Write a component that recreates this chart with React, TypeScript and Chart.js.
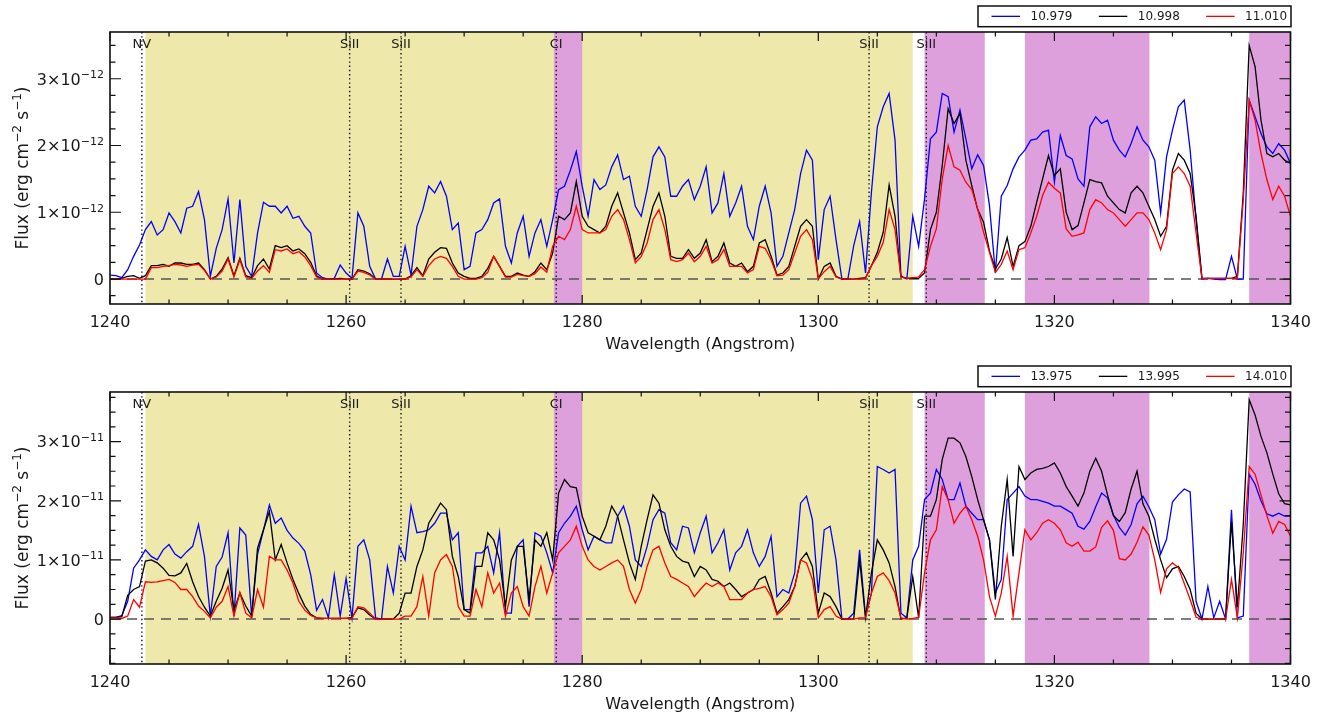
import React, { useEffect, useRef } from "react";
import { Chart, registerables } from "chart.js";

Chart.register(...registerables);

// ---- sampling grid (Angstrom) ----
const waveStart = 1240;
const waveStep = 0.5;
const waveCount = 201;
const wavelengths: number[] = Array.from({ length: waveCount }, (_, i) => waveStart + i * waveStep);

// ---- upper panel (flux in units of 1e-12 erg cm^-2 s^-1) ----
const topLabels = ["10.979", "10.998", "11.010"];
const topBlue = [
  0.06, 0.05, 0.02, 0.14, 0.34, 0.51, 0.74, 0.86, 0.66, 0.74, 0.99, 0.86, 0.69, 1.06, 1.09, 1.31, 0.89, 0.04, 0.46, 0.74,
  1.2, 0.24, 1.19, 0.19, 0.04, 0.69, 1.15, 1.09, 1.09, 0.99, 1.09, 0.91, 0.94, 0.79, 0.69, 0.09, 0.02, 0.0, 0.01, 0.21,
  0.09, 0.01, 0.99, 0.79, 0.19, 0.0, 0.0, 0.3, 0.04, 0.04, 0.49, 0.06, 0.79, 1.04, 1.39, 1.29, 1.46, 1.24, 0.74, 0.84,
  0.14, 0.19, 0.69, 0.74, 0.89, 1.14, 1.2, 0.49, 0.24, 0.69, 0.94, 0.34, 0.69, 0.89, 0.49, 0.89, 1.34, 1.39, 1.63, 1.91,
  1.39, 0.94, 1.49, 1.34, 1.41, 1.68, 1.86, 1.49, 1.54, 1.09, 0.94, 1.34, 1.83, 1.98, 1.83, 1.24, 1.24, 1.39, 1.49, 1.19,
  1.39, 1.68, 0.99, 1.14, 1.58, 0.94, 1.14, 1.39, 0.79, 0.59, 1.09, 1.39, 0.99, 0.19, 0.34, 0.69, 1.04, 1.58, 1.93, 1.78,
  0.29, 1.04, 1.24, 0.59, 0.0, 0.0, 0.5, 0.86, 0.09, 1.3, 2.28, 2.58, 2.78, 2.08, 0.05, 0.0, 0.94, 0.49, 1.2, 2.1,
  2.2, 2.78, 2.73, 2.2, 2.53, 2.1, 1.65, 1.86, 1.7, 1.1, 0.09, 1.24, 1.4, 1.65, 1.83, 1.93, 2.08, 2.1, 2.2, 2.23,
  1.45, 2.15, 1.85, 1.8, 1.5, 1.39, 2.28, 2.43, 2.33, 2.38, 2.08, 1.93, 1.83, 2.03, 2.28, 2.08, 1.98, 1.78, 0.99, 1.83,
  2.23, 2.58, 2.68, 1.93, 0.89, 0.0, 0.01, 0.0, -0.01, -0.01, 0.34, 0.0, 0.0, 2.68, 2.43, 2.18, 1.98, 1.88, 2.03, 1.93,
  1.73,
];
const topBlack = [
  0.0, 0.0, 0.01, 0.04, 0.05, 0.01, 0.05, 0.2, 0.2, 0.22, 0.19, 0.24, 0.24, 0.22, 0.22, 0.24, 0.14, 0.0, 0.04, 0.15,
  0.32, 0.05, 0.31, 0.05, 0.02, 0.2, 0.3, 0.15, 0.5, 0.47, 0.5, 0.42, 0.45, 0.38, 0.25, 0.05, 0.0, 0.0, 0.0, 0.01,
  0.0, 0.0, 0.14, 0.12, 0.08, 0.0, 0.0, 0.0, 0.0, 0.0, 0.0, 0.05, 0.17, 0.05, 0.3, 0.4, 0.47, 0.46, 0.24, 0.09,
  0.04, 0.01, 0.01, 0.04, 0.16, 0.34, 0.19, 0.04, 0.04, 0.09, 0.06, 0.04, 0.11, 0.24, 0.14, 0.39, 0.94, 0.89, 0.99, 1.46,
  0.94, 0.79, 0.74, 0.69, 0.79, 1.09, 1.29, 0.99, 0.69, 0.29, 0.39, 0.74, 1.09, 1.29, 0.94, 0.34, 0.31, 0.31, 0.44, 0.31,
  0.39, 0.59, 0.26, 0.34, 0.54, 0.24, 0.19, 0.24, 0.11, 0.19, 0.54, 0.59, 0.34, 0.06, 0.09, 0.19, 0.49, 0.79, 0.89, 0.79,
  0.0, 0.19, 0.24, 0.04, 0.0, 0.0, 0.0, 0.01, 0.02, 0.2, 0.4, 0.7, 1.41, 0.94, 0.03, 0.01, 0.01, 0.01, 0.09, 0.74,
  1.0, 1.7, 2.55, 2.33, 2.48, 1.78, 1.4, 1.04, 0.85, 0.42, 0.15, 0.3, 0.62, 0.19, 0.5, 0.56, 0.79, 1.15, 1.5, 1.85,
  1.55, 1.65, 1.0, 0.74, 0.8, 1.14, 1.49, 1.46, 1.44, 1.24, 1.14, 1.04, 0.99, 1.29, 1.39, 1.29, 1.09, 0.89, 0.64, 0.79,
  1.63, 1.88, 1.78, 1.58, 0.94, 0.01, 0.01, 0.01, 0.01, 0.01, 0.01, 0.04, 1.29, 3.5, 3.18, 2.38, 1.88, 1.83, 1.88, 1.78,
  1.73,
];
const topRed = [
  0.0, 0.0, 0.0, 0.0, 0.0, 0.0, 0.0, 0.17, 0.17, 0.19, 0.2, 0.22, 0.21, 0.19, 0.21, 0.22, 0.13, 0.0, 0.03, 0.12,
  0.3, 0.03, 0.29, 0.03, 0.01, 0.12, 0.2, 0.1, 0.44, 0.42, 0.45, 0.38, 0.41, 0.33, 0.2, 0.03, 0.0, 0.0, 0.0, 0.0,
  0.0, 0.0, 0.12, 0.1, 0.06, 0.0, 0.0, 0.0, 0.0, 0.0, 0.0, 0.03, 0.14, 0.04, 0.2, 0.3, 0.34, 0.31, 0.19, 0.04,
  0.0, 0.0, 0.0, 0.02, 0.1, 0.34, 0.19, 0.03, 0.03, 0.07, 0.05, 0.04, 0.08, 0.18, 0.1, 0.49, 0.64, 0.59, 0.74, 1.09,
  0.74, 0.69, 0.69, 0.69, 0.74, 0.94, 1.04, 0.89, 0.59, 0.24, 0.34, 0.54, 0.89, 1.04, 0.74, 0.29, 0.26, 0.29, 0.39, 0.26,
  0.34, 0.49, 0.24, 0.29, 0.44, 0.19, 0.19, 0.19, 0.09, 0.14, 0.49, 0.46, 0.29, 0.05, 0.06, 0.14, 0.39, 0.64, 0.74, 0.59,
  0.0, 0.11, 0.19, 0.03, 0.0, 0.0, 0.0, 0.0, 0.01, 0.2, 0.34, 0.55, 1.04, 0.74, 0.03, 0.01, 0.02, 0.03, 0.14, 0.49,
  0.75, 1.5, 2.0, 1.68, 1.63, 1.45, 1.34, 1.05, 0.7, 0.4, 0.1, 0.22, 0.42, 0.14, 0.44, 0.47, 0.69, 0.94, 1.25, 1.45,
  1.36, 1.29, 0.75, 0.64, 0.66, 0.69, 1.04, 1.19, 1.14, 1.04, 0.99, 0.89, 0.79, 0.89, 0.99, 0.99, 0.89, 0.69, 0.44, 0.74,
  1.58, 1.68, 1.58, 1.39, 0.69, 0.01, 0.01, 0.01, 0.01, 0.01, 0.01, 0.01, 1.19, 2.68, 2.38, 1.88, 1.49, 1.19, 1.39, 1.24,
  0.94,
];

// ---- lower panel (flux in units of 1e-11 erg cm^-2 s^-1) ----
const bottomLabels = ["13.975", "13.995", "14.010"];
const bottomBlue = [
  0.03, 0.03, 0.06, 0.3, 0.86, 1.0, 1.17, 1.06, 1.0, 1.17, 1.26, 1.1, 1.03, 1.14, 1.23, 1.6, 1.06, 0.05, 0.89, 1.05,
  1.46, 0.05, 1.54, 1.42, 0.05, 1.1, 1.5, 1.93, 1.62, 1.71, 1.5, 1.37, 1.28, 1.15, 0.75, 0.15, 0.33, 0.02, 0.75, 0.05,
  0.69, 0.02, 1.23, 1.34, 1.0, 0.02, 0.0, 0.89, 0.44, 1.23, 1.0, 1.91, 1.46, 1.48, 1.51, 1.62, 1.79, 1.79, 1.34, 1.46,
  0.16, 0.16, 1.12, 1.12, 1.23, 0.78, 1.46, 0.1, 0.1, 1.23, 1.34, 0.21, 1.46, 1.4, 1.12, 0.78, 1.46, 1.62, 1.74, 1.91,
  1.51, 1.17, 1.4, 1.34, 1.29, 1.29, 1.74, 1.91, 1.57, 1.0, 0.89, 1.23, 1.68, 1.85, 1.79, 1.29, 1.17, 1.57, 1.54, 1.12,
  1.46, 1.74, 1.12, 1.29, 1.51, 0.83, 1.12, 1.23, 1.51, 1.12, 0.89, 1.06, 1.4, 0.38, 0.5, 0.44, 0.78, 1.96, 2.08, 1.68,
  0.44, 1.51, 1.57, 1.0, 0.0, 0.0, 0.1, 1.17, 0.05, 0.44, 2.58, 2.53, 2.47, 2.53, 0.1, 0.02, 1.0, 1.23, 2.02, 2.13,
  2.53, 2.36, 2.02, 2.02, 2.3, 1.91, 1.79, 1.68, 1.68, 1.34, 0.44, 0.67, 2.02, 2.13, 2.24, 2.08, 2.02, 2.02, 1.99, 1.96,
  1.91, 1.91, 1.85, 1.79, 1.57, 1.52, 1.65, 1.9, 2.13, 2.05, 1.76, 1.55, 1.42, 1.6, 1.95, 2.08, 1.9, 1.68, 1.1, 1.35,
  1.98, 2.1, 2.2, 2.15, 0.3, 0.0, 0.55, 0.02, 0.3, 0.0, 1.85, 0.02, 0.05, 2.45, 2.28, 2.0, 1.78, 1.74, 1.79, 1.74,
  1.74,
];
const bottomBlack = [
  0.03, 0.03, 0.04, 0.4, 0.5, 0.55, 0.98, 1.0, 0.95, 0.86, 0.74, 0.73, 0.78, 0.94, 0.63, 0.38, 0.2, 0.05, 0.3, 0.52,
  0.83, 0.15, 0.44, 0.22, 0.05, 1.2, 1.51, 1.82, 1.0, 1.26, 0.95, 0.67, 0.43, 0.22, 0.08, 0.02, 0.01, 0.01, 0.01, 0.01,
  0.01, 0.03, 0.19, 0.16, 0.07, 0.0, 0.0, 0.0, 0.0, 0.1, 0.44, 0.44, 0.89, 1.17, 1.62, 1.79, 1.96, 1.85, 1.06, 0.72,
  0.16, 0.1, 0.89, 0.89, 1.46, 1.34, 1.0, 0.21, 1.0, 1.23, 1.23, 0.33, 1.34, 1.23, 1.46, 1.0, 2.13, 2.36, 2.24, 2.22,
  1.74, 1.46, 1.4, 1.34, 1.57, 1.91, 1.74, 1.34, 0.95, 0.67, 1.23, 1.68, 2.1, 1.96, 1.51, 1.23, 1.06, 0.98, 0.95, 0.72,
  0.89, 0.83, 0.67, 0.64, 0.55, 0.61, 0.5, 0.38, 0.44, 0.5, 0.67, 0.72, 0.44, 0.1, 0.21, 0.33, 0.55, 1.0, 1.12, 0.89,
  0.1, 0.44, 0.38, 0.21, 0.0, 0.0, 0.0, 1.0, 0.02, 0.78, 1.34, 1.17, 0.95, 0.55, 0.0, 0.02, 0.72, 0.02, 1.74, 1.74,
  2.02, 2.7, 3.06, 3.06, 2.98, 2.75, 2.41, 2.02, 1.68, 1.34, 0.33, 1.57, 2.36, 1.06, 2.58, 2.36, 2.47, 2.53, 2.55, 2.58,
  2.64, 2.47, 2.24, 2.08, 1.91, 2.13, 2.5, 2.72, 2.5, 2.1, 1.75, 1.65, 1.8, 2.2, 2.5, 1.95, 1.74, 1.35, 1.0, 0.7,
  0.85, 0.89, 0.72, 0.5, 0.1, 0.0, 0.0, 0.0, 0.0, 0.0, 1.65, 0.2, 1.6, 3.71, 3.45, 3.09, 2.81, 2.45, 2.12, 1.95,
  1.93,
];
const bottomRed = [
  0.02, 0.02, 0.01, 0.05, 0.33, 0.2, 0.63, 0.62, 0.63, 0.65, 0.67, 0.62, 0.5, 0.5, 0.38, 0.22, 0.13, 0.02, 0.2, 0.3,
  0.55, 0.05, 0.45, 0.1, 0.02, 0.5, 0.2, 1.06, 1.0, 1.0, 0.83, 0.61, 0.3, 0.15, 0.06, 0.02, 0.01, 0.01, 0.01, 0.01,
  0.01, 0.01, 0.21, 0.19, 0.1, 0.0, 0.0, 0.0, 0.0, 0.0, 0.05, 0.05, 0.21, 0.72, 0.05, 0.78, 1.0, 1.09, 0.89, 0.21,
  0.05, 0.05, 0.5, 0.21, 0.78, 0.44, 0.61, 0.05, 0.44, 0.55, 0.21, 0.05, 0.55, 0.89, 0.44, 0.78, 1.12, 1.23, 1.34, 1.57,
  1.23, 1.0, 0.89, 0.83, 0.89, 0.95, 1.0, 0.89, 0.5, 0.27, 0.5, 0.89, 1.17, 1.23, 0.95, 0.72, 0.67, 0.61, 0.55, 0.38,
  0.5, 0.61, 0.55, 0.61, 0.55, 0.33, 0.33, 0.33, 0.44, 0.5, 0.52, 0.55, 0.38, 0.07, 0.16, 0.27, 0.55, 1.0, 0.95, 0.67,
  0.02, 0.16, 0.21, 0.05, 0.0, 0.0, 0.0, 0.02, 0.02, 0.44, 0.72, 0.78, 0.65, 0.44, 0.02, 0.0, 0.01, 0.03, 0.78, 1.34,
  1.51, 2.24, 2.02, 1.62, 1.79, 1.91, 1.68, 1.4, 1.0, 0.38, 0.05, 0.44, 1.06, 0.05, 0.78, 1.51, 1.34, 1.46, 1.62, 1.68,
  1.62, 1.51, 1.29, 1.23, 1.3, 1.15, 1.15, 1.22, 1.55, 1.66, 1.5, 1.02, 1.0, 1.1, 1.3, 1.56, 1.42, 1.0, 0.45, 0.85,
  0.95, 0.87, 0.6, 0.33, 0.03, 0.0, 0.0, 0.0, 0.0, 0.0, 0.67, 0.02, 1.12, 2.58, 2.45, 2.1, 1.75, 1.45, 1.65, 1.6,
  1.4,
];

// ---- axes, bands and line identifications ----
const xTickValues = [1240, 1260, 1280, 1300, 1320, 1340];
const yTickValues = [0, 1, 2, 3];
const seriesColors = ["#0000ff", "#000000", "#ff0000"];
const khakiBands: [number, number][] = [[1243.0, 1308.0]];
const plumBands: [number, number][] = [[1277.6, 1280.0], [1309.0, 1314.1], [1317.5, 1328.05], [1336.5, 1340.0]];
const lineWaves = [1242.7, 1260.3, 1264.65, 1277.8, 1304.3, 1309.15];
const lineNames = ["NV", "SiII", "SiII", "CI", "SiII", "SiII"];

const FONT = "DejaVu Sans";
const TEXT = "#1a1a1a";
const MINUS = "\u2212";

type PanelProps = {
  top: number;
  series: number[][];
  labels: string[];
  yMin: number;
  yMax: number;
  exponent: number;
};

function SpectrumPanel({ top, series, labels, yMin, yMax, exponent }: PanelProps) {
  const ref = useRef<HTMLCanvasElement | null>(null);

  useEffect(() => {
    if (!ref.current) return;

    const decor = {
      id: "idlDecor",
      beforeDatasetsDraw(chart: any) {
        const { ctx, chartArea: a } = chart;
        const xs = chart.scales.x;
        const ys = chart.scales.y;
        ctx.save();
        ctx.beginPath();
        ctx.rect(a.left, a.top, a.right - a.left, a.bottom - a.top);
        ctx.clip();
        const band = (b: [number, number], color: string) => {
          const x0 = xs.getPixelForValue(b[0]);
          const x1 = xs.getPixelForValue(b[1]);
          ctx.fillStyle = color;
          ctx.fillRect(x0, a.top, x1 - x0, a.bottom - a.top);
        };
        khakiBands.forEach((b) => band(b, "#eee8aa"));
        plumBands.forEach((b) => band(b, "#dda0dd"));
        // dotted identification lines
        ctx.strokeStyle = "#111";
        ctx.lineWidth = 1.4;
        ctx.setLineDash([1.4, 2.8]);
        lineWaves.forEach((w) => {
          const px = xs.getPixelForValue(w);
          ctx.beginPath();
          ctx.moveTo(px, a.top);
          ctx.lineTo(px, a.bottom);
          ctx.stroke();
        });
        // dashed zero line
        ctx.setLineDash([10, 7]);
        ctx.strokeStyle = "#555";
        ctx.lineWidth = 1.5;
        const y0 = ys.getPixelForValue(0);
        ctx.beginPath();
        ctx.moveTo(a.left, y0);
        ctx.lineTo(a.right, y0);
        ctx.stroke();
        ctx.setLineDash([]);
        // identification labels
        ctx.fillStyle = TEXT;
        ctx.font = `13px "${FONT}"`;
        ctx.textAlign = "center";
        ctx.textBaseline = "middle";
        lineWaves.forEach((w, i) => {
          ctx.fillText(lineNames[i], xs.getPixelForValue(w), a.top + 13);
        });
        ctx.restore();
      },
      afterDraw(chart: any) {
        const { ctx, chartArea: a } = chart;
        const xs = chart.scales.x;
        const ys = chart.scales.y;
        ctx.save();
        ctx.strokeStyle = "#111";
        ctx.lineWidth = 1.2;
        // x ticks (inward, top and bottom)
        for (let v = 1240; v <= 1340; v += 5) {
          const px = xs.getPixelForValue(v);
          const len = v % 20 === 0 ? 9 : 4.5;
          ctx.beginPath();
          ctx.moveTo(px, a.bottom);
          ctx.lineTo(px, a.bottom - len);
          ctx.moveTo(px, a.top);
          ctx.lineTo(px, a.top + len);
          ctx.stroke();
        }
        // y ticks (inward, left and right)
        for (let k = Math.ceil(yMin / 0.25); k * 0.25 <= yMax; k++) {
          const py = ys.getPixelForValue(k * 0.25);
          const len = k % 4 === 0 ? 11 : 5.5;
          ctx.beginPath();
          ctx.moveTo(a.left, py);
          ctx.lineTo(a.left + len, py);
          ctx.moveTo(a.right, py);
          ctx.lineTo(a.right - len, py);
          ctx.stroke();
        }
        // frame
        ctx.lineWidth = 1.6;
        ctx.strokeRect(a.left, a.top, a.right - a.left, a.bottom - a.top);

        // y tick labels with superscript exponent
        ctx.fillStyle = TEXT;
        ctx.textBaseline = "alphabetic";
        ctx.textAlign = "left";
        const xr = a.left - 6;
        const mainFont = `16px "${FONT}"`;
        const supFont = `11px "${FONT}"`;
        ys.ticks.forEach((t: any) => {
          const py = ys.getPixelForValue(t.value);
          const base = py + 5.8;
          if (t.value === 0) {
            ctx.font = mainFont;
            const w = ctx.measureText("0").width;
            ctx.fillText("0", xr - w, base);
            return;
          }
          const main = `${t.value}\u00D710`;
          const supText = `${MINUS}${Math.abs(exponent)}`;
          ctx.font = supFont;
          const wS = ctx.measureText(supText).width;
          ctx.font = mainFont;
          const wM = ctx.measureText(main).width;
          ctx.fillText(main, xr - wS - wM, base);
          ctx.font = supFont;
          ctx.fillText(supText, xr - wS, base - 6.5);
        });

        // y axis title (rotated) with superscripts
        const parts: [string, boolean][] = [
          ["Flux (erg cm", false],
          [`${MINUS}2`, true],
          [" s", false],
          [`${MINUS}1`, true],
          [")", false],
        ];
        const tMain = `17px "${FONT}"`;
        const tSup = `12px "${FONT}"`;
        let total = 0;
        parts.forEach(([s, isSup]) => {
          ctx.font = isSup ? tSup : tMain;
          total += ctx.measureText(s).width;
        });
        ctx.save();
        ctx.translate(21.5, (a.top + a.bottom) / 2);
        ctx.rotate(-Math.PI / 2);
        let cx = -total / 2;
        parts.forEach(([s, isSup]) => {
          ctx.font = isSup ? tSup : tMain;
          ctx.fillText(s, cx, isSup ? 6 - 7 : 6);
          cx += ctx.measureText(s).width;
        });
        ctx.restore();

        // legend box
        const boxRight = a.right + 0.5;
        const boxLeft = boxRight - 313;
        const boxTop = a.top - 26;
        const boxH = 20.7;
        ctx.fillStyle = "#fff";
        ctx.fillRect(boxLeft, boxTop, boxRight - boxLeft, boxH);
        ctx.lineWidth = 1.5;
        ctx.strokeStyle = "#111";
        ctx.strokeRect(boxLeft, boxTop, boxRight - boxLeft, boxH);
        const cy = boxTop + boxH / 2;
        ctx.font = `12px "${FONT}"`;
        ctx.textAlign = "left";
        ctx.textBaseline = "middle";
        chart.data.datasets.forEach((ds: any, i: number) => {
          const x0 = boxLeft + 13.5 + i * 107.3;
          ctx.strokeStyle = ds.borderColor;
          ctx.lineWidth = 1.3;
          ctx.beginPath();
          ctx.moveTo(x0, cy);
          ctx.lineTo(x0 + 28.5, cy);
          ctx.stroke();
          ctx.fillStyle = TEXT;
          ctx.fillText(ds.label, x0 + 39, cy + 0.5);
        });
        ctx.restore();
      },
    };

    const chart = new Chart(ref.current, {
      type: "line",
      data: {
        datasets: series.map((vals, i) => ({
          label: labels[i],
          data: wavelengths.map((w, j) => ({ x: w, y: vals[j] })),
          borderColor: seriesColors[i],
          backgroundColor: seriesColors[i],
          borderWidth: 1.3,
          pointRadius: 0,
          fill: false,
          tension: 0,
          order: 3 - i,
        })),
      },
      options: {
        animation: false,
        responsive: false,
        maintainAspectRatio: false,
        layout: { padding: { top: 32, right: 34.5, left: 0, bottom: 0 } },
        plugins: { legend: { display: false }, tooltip: { enabled: false } },
        scales: {
          x: {
            type: "linear",
            min: 1240,
            max: 1340,
            afterBuildTicks: (s: any) => {
              s.ticks = xTickValues.map((v) => ({ value: v }));
            },
            afterFit: (s: any) => {
              s.height = 56;
            },
            grid: { display: false, drawTicks: false },
            border: { display: false },
            ticks: {
              padding: 9,
              color: TEXT,
              maxRotation: 0,
              autoSkip: false,
              font: { family: FONT, size: 16 },
              callback: (v: any) => String(v),
            },
            title: {
              display: true,
              text: "Wavelength (Angstrom)",
              color: TEXT,
              font: { family: FONT, size: 16 },
              padding: { top: 0, bottom: 5.4 },
            },
          },
          y: {
            type: "linear",
            min: yMin,
            max: yMax,
            afterBuildTicks: (s: any) => {
              s.ticks = yTickValues.map((v) => ({ value: v }));
            },
            afterFit: (s: any) => {
              s.width = 110;
            },
            grid: { display: false, drawTicks: false },
            border: { display: false },
            ticks: { display: false },
            title: { display: false },
          },
        },
      } as any,
      plugins: [decor],
    });

    return () => chart.destroy();
  }, []);

  return (
    <canvas
      ref={ref}
      width={1325}
      height={360}
      style={{ position: "absolute", left: 0, top, width: 1325, height: 360, display: "block" }}
    />
  );
}

export default function App() {
  return (
    <div style={{ position: "absolute", left: 0, top: 0, width: 1325, height: 722, background: "#fff", overflow: "hidden" }}>
      <SpectrumPanel top={0} series={[topBlue, topBlack, topRed]} labels={topLabels} yMin={-0.374} yMax={3.7} exponent={-12} />
      <SpectrumPanel top={360} series={[bottomBlue, bottomBlack, bottomRed]} labels={bottomLabels} yMin={-0.76} yMax={3.84} exponent={-11} />
    </div>
  );
}
